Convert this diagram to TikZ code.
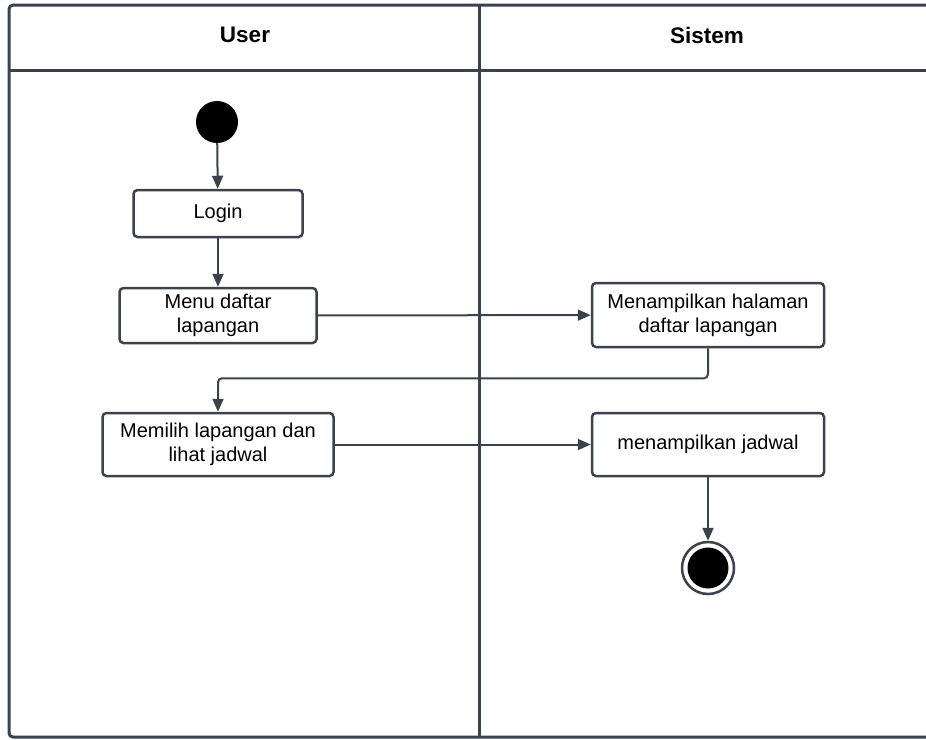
\documentclass[tikz,border=0pt]{standalone}
\usepackage{fontspec}
\setmainfont{Liberation Sans}
\usetikzlibrary{arrows.meta}
\definecolor{ln}{HTML}{3B424C}
\begin{document}
\begin{tikzpicture}[x=1pt,y=-1pt,
 act/.style={draw=ln,line width=2.5pt,rounded corners=4pt,align=center,
   font=\fontsize{20}{24}\selectfont,inner sep=0pt},
 flow/.style={draw=ln,line width=2pt,-{Triangle[length=13pt,width=11pt]}},
 lane/.style={draw=ln,line width=3pt},
 hdr/.style={font=\fontsize{22.5}{26}\selectfont\bfseries}]
\useasboundingbox (0,0) rectangle (926,739);
\draw[lane,rounded corners=4pt] (940,5) -- (9,5) -- (9,737) -- (940,737);
\draw[lane] (9,70) -- (940,70);
\draw[lane] (479,5) -- (479,737);
\node[hdr] (hu) at (245,35) {User};
\node[hdr] (hs) at (707,35) {Sistem};

\node[circle,fill=black,minimum size=42pt,inner sep=0pt] (start) at (217,122) {};
\node[act,minimum width=169pt,minimum height=47pt] (login) at (218,213.5) {Login};
\node[act,minimum width=197pt,minimum height=55pt] (menu) at (218,315.5) {Menu daftar\\lapangan};
\node[act,minimum width=232pt,minimum height=64pt] (halaman) at (708,315) {Menampilkan halaman\\daftar lapangan};
\node[act,minimum width=231pt,minimum height=63pt] (memilih) at (218,444.5) {Memilih lapangan dan\\lihat jadwal};
\node[act,minimum width=232pt,minimum height=63pt] (jadwal) at (708,444.5) {menampilkan jadwal};
\node[circle,draw=ln,line width=2.5pt,minimum size=52pt,inner sep=0pt] (end) at (708,568) {};
\node[circle,fill=black,minimum size=41pt,inner sep=0pt] (endin) at (end) {};

\draw[flow] (start) -- (login);
\draw[flow] (login) -- (menu);
\draw[flow] (menu) -- (halaman);
\draw[flow,rounded corners=4pt] (halaman.south) -- ++(0,30) -| (memilih.north);
\draw[flow] (memilih) -- (jadwal);
\draw[flow] (jadwal) -- (end);
\end{tikzpicture}
\end{document}
